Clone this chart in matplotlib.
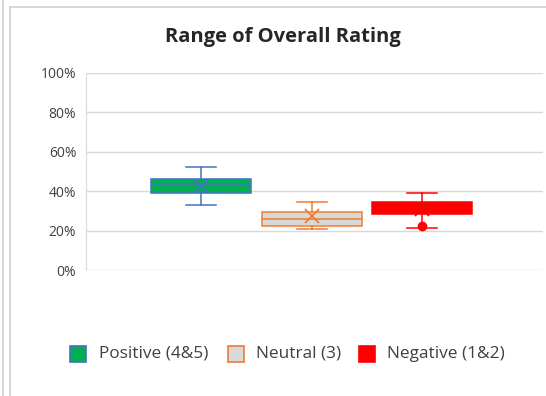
import matplotlib
matplotlib.use("Agg")
import matplotlib.pyplot as plt
from matplotlib.patches import Rectangle
from matplotlib.lines import Line2D

# ---- data (percent) ----
series = ["Positive (4&5)", "Neutral (3)", "Negative (1&2)"]
whisker_low = [32.8, 20.7, 21.5]
q1 = [39.2, 22.5, 28.3]
median = [43.1, 25.9, 31.3]
q3 = [46.0, 29.3, 34.7]
whisker_high = [52.4, 34.4, 39.2]
mean = [42.4, 27.6, 30.8]
points = [[], [], [22.5]]
yticks = [0, 20, 40, 60, 80, 100]
ytick_labels = ["0%", "20%", "40%", "60%", "80%", "100%"]

fill_colors = ["#00B050", "#D9D9D9", "#FF0000"]
edge_colors = ["#4472C4", "#ED7D31", "#FF0000"]

FONT = "Open Sans"
W, H = 546, 396
fig = plt.figure(figsize=(W / 100, H / 100), dpi=100)
fig.patch.set_facecolor("white")

# chart borders
fig.add_artist(Line2D([3 / W, 3 / W], [0, 1], color="#D0D0D0", lw=1.2))
fig.add_artist(Line2D([9.5 / W, 9.5 / W], [0, 1 - 7 / H], color="#D0D0D0", lw=1.2))
fig.add_artist(Line2D([9.5 / W, 1], [1 - 7 / H, 1 - 7 / H], color="#D0D0D0", lw=1.2))

ax = fig.add_axes([86 / W, 1 - 270 / H, (543 - 86) / W, (270 - 73) / H])
unit = 110.5
positions = [0, 1, 2]
ax.set_xlim(-(201 - 86) / unit, 2 + (543 - 422) / unit)
ax.set_ylim(0, 100)

for i in range(3):
    st = [dict(med=median[i], q1=q1[i], q3=q3[i], whislo=whisker_low[i],
               whishi=whisker_high[i], mean=mean[i], fliers=points[i])]
    ec = edge_colors[i]
    ax.bxp(st, positions=[positions[i]], widths=100 / unit, capwidths=30 / unit,
           patch_artist=True, showmeans=True, showfliers=True,
           boxprops=dict(facecolor=fill_colors[i], edgecolor=ec, lw=1.1),
           medianprops=dict(color=ec, lw=1.1),
           whiskerprops=dict(color=ec, lw=1.1),
           capprops=dict(color=ec, lw=1.1),
           meanprops=dict(marker="x", markeredgecolor=ec, markersize=10, markeredgewidth=1.3),
           flierprops=dict(marker="o", markerfacecolor=ec, markeredgecolor=ec, markersize=6),
           zorder=3)

ax.set_yticks(yticks)
ax.set_yticklabels(ytick_labels, fontfamily=FONT, fontsize=10, color="#404040")
ax.set_xticks([])
ax.tick_params(axis="y", length=0, pad=7)
ax.grid(axis="y", color="#D9D9D9", lw=1, zorder=0)
ax.set_axisbelow(True)
for s in ["top", "right", "bottom"]:
    ax.spines[s].set_visible(False)
ax.spines["left"].set_color("#D9D9D9")

fig.text(283 / W, 1 - 37 / H, "Range of Overall Rating", ha="center", va="center",
         fontfamily=FONT, fontweight="bold", fontsize=14.5, color="#262626")

# legend
sq_x = [70, 228, 359]
txt_x = [99, 256, 387]
for i in range(3):
    fig.add_artist(Rectangle((sq_x[i] / W, 1 - 362 / H), 16 / W, 16 / H,
                             facecolor=fill_colors[i], edgecolor=edge_colors[i], lw=1.2,
                             transform=fig.transFigure))
    fig.text(txt_x[i] / W, 1 - 354 / H, series[i], ha="left", va="center",
             fontfamily=FONT, fontsize=12.4, color="#404040")

fig.savefig("out.png", dpi=100)
